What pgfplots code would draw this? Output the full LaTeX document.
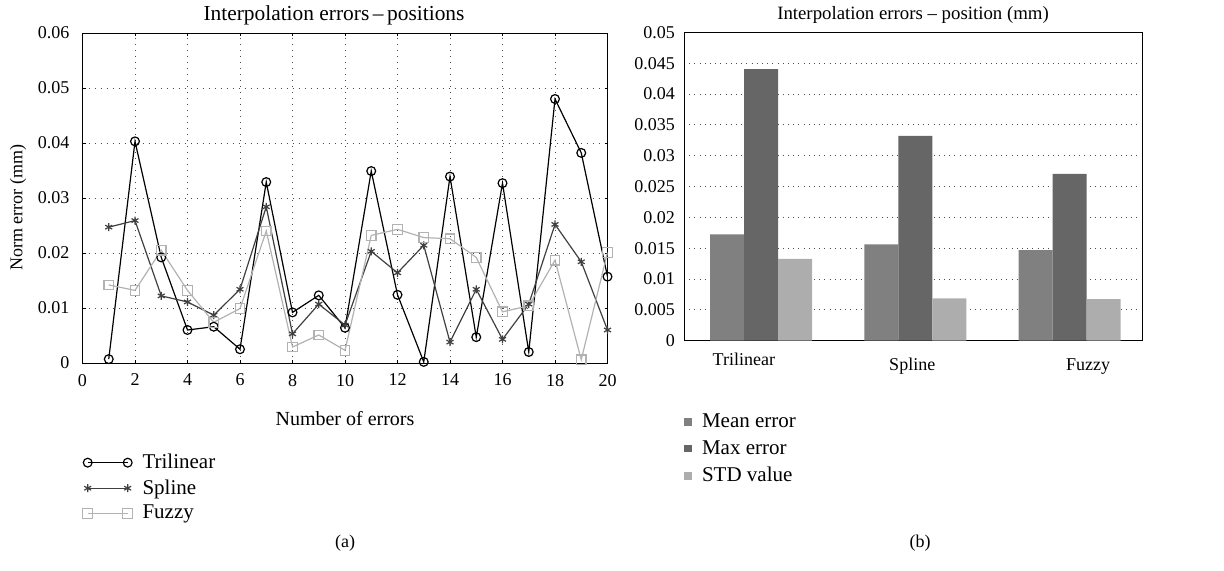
\documentclass[border=0pt]{standalone}
\usepackage{fontspec}
\setmainfont{Liberation Serif}
\usepackage{pgfplots}
\pgfplotsset{compat=1.18}

\definecolor{splinec}{gray}{0.25}
\definecolor{fuzzyc}{gray}{0.70}
\definecolor{meanc}{gray}{0.50}
\definecolor{maxc}{gray}{0.40}
\definecolor{stdc}{gray}{0.68}

\begin{document}
\begin{tikzpicture}[font=\fontsize{9}{11}\selectfont]
\useasboundingbox (0,0) rectangle (612pt,-285.5pt);

% (a) interpolation errors per sample
\begin{axis}[
  at={(41.25pt,-181.5pt)}, anchor=south west,
  scale only axis, width=262.5pt, height=165pt,
  xmin=0, xmax=20, ymin=0, ymax=0.06,
  xtick={0,2,4,6,8,10,12,14,16,18,20},
  ytick={0,0.01,0.02,0.03,0.04,0.05,0.06},
  scaled y ticks=false,
  /pgf/number format/assume math mode=true,
  yticklabel style={/pgf/number format/fixed, /pgf/number format/precision=3, xshift=-3pt},
  xticklabel style={yshift=-2pt},
  tick align=inside, major tick length=1.5pt,
  tick style={black, line width=0.4pt},
  axis line style={line width=0.5pt},
  grid=major, grid style={black!70, line width=0.4pt, dash pattern=on 0.4pt off 2.6pt},
  title={Interpolation errors\,–\,positions},
  title style={yshift=-5.5pt, xshift=-5.5pt, font=\fontsize{10.7}{12}\selectfont},
  xlabel={Number of errors},
  xlabel style={at={(axis description cs:0.5,-0.167)}, anchor=center, font=\fontsize{10}{12}\selectfont},
  ylabel={Norm error (mm)},
  ylabel style={at={(axis description cs:-0.123,0.47)}, anchor=center},
  legend style={at={(axis description cs:0,-0.262)}, anchor=north west, draw=none, fill=none,
    inner sep=0pt, row sep=0pt, column sep=3pt, font=\fontsize{10.5}{12}\selectfont},
  legend cell align=left,
  legend image code/.code={\draw[#1] plot coordinates {(2pt,0pt) (22pt,0pt)};},
]
\addplot[black, line width=0.6pt, mark=o, mark size=2.2pt, mark options={solid}] coordinates {
(1,0.0007) (2,0.0403) (3,0.0192) (4,0.0060) (5,0.0066) (6,0.0025) (7,0.0329)
(8,0.0092) (9,0.0123) (10,0.0064) (11,0.0349) (12,0.0124) (13,0.0002) (14,0.0339)
(15,0.0047) (16,0.0327) (17,0.0020) (18,0.0480) (19,0.0382) (20,0.0157)};
\addlegendentry{Trilinear}
\addplot[splinec, line width=0.6pt, mark=asterisk, mark size=2pt] coordinates {
(1,0.0247) (2,0.0259) (3,0.0122) (4,0.0111) (5,0.0087) (6,0.0134) (7,0.0284)
(8,0.0053) (9,0.0107) (10,0.0069) (11,0.0203) (12,0.0164) (13,0.0214) (14,0.0038)
(15,0.0134) (16,0.0043) (17,0.0107) (18,0.0252) (19,0.0184) (20,0.0060)};
\addlegendentry{Spline}
\addplot[fuzzyc, line width=0.6pt, mark=square, mark size=2.4pt] coordinates {
(1,0.0142) (2,0.0132) (3,0.0205) (4,0.0132) (5,0.0074) (6,0.0099) (7,0.0240)
(8,0.0029) (9,0.0051) (10,0.0023) (11,0.0232) (12,0.0243) (13,0.0228) (14,0.0226)
(15,0.0192) (16,0.0093) (17,0.0104) (18,0.0187) (19,0.0006) (20,0.0201)};
\addlegendentry{Fuzzy}
\end{axis}

% (b) summary bars
\begin{axis}[
  at={(342pt,-170.35pt)}, anchor=south west,
  scale only axis, width=229pt, height=154.2pt,
  xmin=0.5, xmax=3.47, ymin=0, ymax=0.05,
  ybar=0pt, bar width=17pt,
  xtick=\empty,
  ytick={0,0.005,0.01,0.015,0.02,0.025,0.03,0.035,0.04,0.045,0.05},
  scaled y ticks=false,
  /pgf/number format/assume math mode=true,
  yticklabel style={/pgf/number format/fixed, /pgf/number format/precision=3, xshift=-1pt},
  major tick length=0pt,
  axis line style={line width=0.5pt},
  ymajorgrids, grid style={black!70, line width=0.4pt, dash pattern=on 0.4pt off 2.2pt},
  title={Interpolation errors – position (mm)},
  title style={yshift=-5pt, font=\fontsize{9.4}{11}\selectfont},
  clip=false,
  legend style={at={(axis description cs:0,-0.222)}, anchor=north west, draw=none, fill=none,
    inner sep=0pt, row sep=1pt, column sep=3pt, font=\fontsize{10.5}{12}\selectfont},
  legend cell align=left,
  every axis plot post/.append style={
    legend image code/.code={\fill[##1] (0pt,-1.9pt) rectangle (3.8pt,1.9pt);}},
]
\addplot[fill=meanc, draw=none] coordinates {(1,0.01725) (2,0.01563) (3,0.01470)};
\addlegendentry{Mean error}
\addplot[fill=maxc, draw=none] coordinates {(1,0.04405) (2,0.03320) (3,0.02705)};
\addlegendentry{Max error}
\addplot[fill=stdc, draw=none] coordinates {(1,0.01325) (2,0.00687) (3,0.00676)};
\addlegendentry{STD value}
\node[anchor=base, yshift=-12.2pt] at (axis cs:0.888,0) {Trilinear};
\node[anchor=base, yshift=-14.7pt] at (axis cs:1.98,0) {Spline};
\node[anchor=base, yshift=-14.7pt] at (axis cs:3.12,0) {Fuzzy};
\end{axis}

\node at (172.5pt,-271.5pt) {(a)};
\node at (460pt,-271.5pt) {(b)};
\end{tikzpicture}
\end{document}
